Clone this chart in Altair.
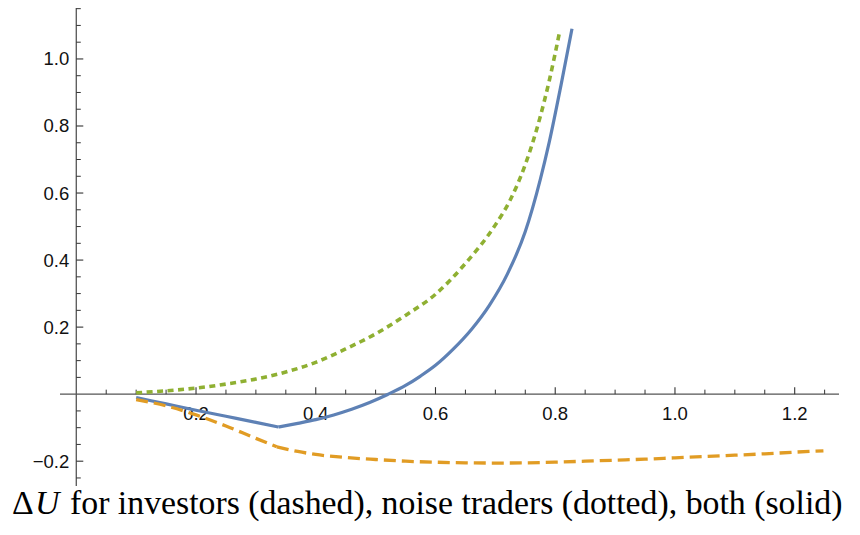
import altair as alt
import pandas as pd

# ---- data ----
# "both" (solid): kink at index 5
both_x = [0.1, 0.15, 0.2, 0.25, 0.3, 0.3375, 0.37, 0.4, 0.43, 0.46, 0.49, 0.52, 0.55,
          0.575, 0.6, 0.63, 0.66, 0.69, 0.72, 0.75, 0.775, 0.79, 0.81, 0.828]
both_y = [-0.010, -0.029, -0.048, -0.066, -0.084, -0.098, -0.087, -0.076, -0.062, -0.045,
          -0.025, -0.001, 0.026, 0.054, 0.086, 0.135, 0.193, 0.265, 0.358, 0.485, 0.64,
          0.752, 0.925, 1.09]
both_kink = 5

# "investors" (dashed): kink at index 5
inv_x = [0.1, 0.15, 0.2, 0.25, 0.3, 0.335, 0.37, 0.4, 0.45, 0.5, 0.55, 0.6, 0.65, 0.7,
         0.75, 0.8, 0.85, 0.9, 0.95, 1.0, 1.05, 1.1, 1.15, 1.2, 1.248]
inv_y = [-0.016, -0.035, -0.062, -0.095, -0.132, -0.157, -0.171, -0.18, -0.189, -0.195,
         -0.2, -0.203, -0.205, -0.2055, -0.205, -0.203, -0.2, -0.197, -0.194, -0.19,
         -0.186, -0.182, -0.178, -0.173, -0.169]
inv_kink = 5

# "noise traders" (dotted)
noise_x = [0.1, 0.15, 0.2, 0.25, 0.3, 0.35, 0.4, 0.45, 0.5, 0.55, 0.6, 0.65, 0.7, 0.725,
           0.75, 0.775, 0.79, 0.808]
noise_y = [0.004, 0.01, 0.018, 0.03, 0.045, 0.066, 0.095, 0.135, 0.18, 0.235, 0.298, 0.39,
           0.505, 0.58, 0.685, 0.828, 0.935, 1.087]

x_major = [0.2, 0.4, 0.6, 0.8, 1.0, 1.2]
x_major_labels = ["0.2", "0.4", "0.6", "0.8", "1.0", "1.2"]
x_minor = [0.05, 0.1, 0.15, 0.25, 0.3, 0.35, 0.45, 0.5, 0.55, 0.65, 0.7, 0.75,
           0.85, 0.9, 0.95, 1.05, 1.1, 1.15, 1.25]
y_major = [-0.2, 0.2, 0.4, 0.6, 0.8, 1.0]
y_major_labels = ["\u22120.2", "0.2", "0.4", "0.6", "0.8", "1.0"]
y_minor = [-0.25, -0.15, -0.1, -0.05, 0.05, 0.1, 0.15, 0.25, 0.3, 0.35, 0.45, 0.5, 0.55,
           0.65, 0.7, 0.75, 0.85, 0.9, 0.95, 1.05, 1.1, 1.15]

caption_parts = ["\u0394", "U", "for investors (dashed), noise traders (dotted), both (solid)"]

# ---- layout ----
W, H = 779, 478
XDOM = [-0.0272, 1.274]
YDOM = [-0.274, 1.152]
SERIF = "Liberation Serif"
SANS = "Liberation Sans"

xs = alt.Scale(domain=XDOM, nice=False, zero=False)
ys = alt.Scale(domain=YDOM, nice=False, zero=False)


def split_at(xv, yv, k):
    """Two pieces sharing the kink point, so the corner stays sharp."""
    if k is None:
        return pd.DataFrame({"x": xv, "y": yv, "seg": "a"})
    a = pd.DataFrame({"x": xv[:k + 1], "y": yv[:k + 1], "seg": "a"})
    b = pd.DataFrame({"x": xv[k:], "y": yv[k:], "seg": "b"})
    return pd.concat([a, b], ignore_index=True)


def line_layer(xv, yv, k, color, dash, width):
    df = split_at(xv, yv, k)
    kw = dict(color=color, strokeWidth=width, interpolate="monotone")
    if dash:
        kw["strokeDash"] = dash
    return alt.Chart(df).mark_line(**kw).encode(
        x=alt.X("x:Q", scale=xs, axis=None),
        y=alt.Y("y:Q", scale=ys, axis=None),
        detail="seg:N",
        order="x:Q",
    )


AXIS_COLOR = "#555555"
TICK_COLOR = "#333333"

xline = pd.DataFrame({"x0": [XDOM[0]], "x1": [XDOM[1]], "z": [0.0]})
yline = pd.DataFrame({"y0": [YDOM[0]], "y1": [YDOM[1]], "z": [0.0]})

x_axis_line = alt.Chart(xline).mark_rule(color=AXIS_COLOR, strokeWidth=1.3).encode(
    x=alt.X("x0:Q", scale=xs, axis=None), x2="x1:Q", y=alt.Y("z:Q", scale=ys, axis=None))
y_axis_line = alt.Chart(yline).mark_rule(color=AXIS_COLOR, strokeWidth=1.3).encode(
    y=alt.Y("y0:Q", scale=ys, axis=None), y2="y1:Q", x=alt.X("z:Q", scale=xs, axis=None))

xmaj = pd.DataFrame({"v": x_major, "t": x_major_labels, "z": 0.0})
xmin = pd.DataFrame({"v": x_minor, "z": 0.0})
ymaj = pd.DataFrame({"v": y_major, "t": y_major_labels, "z": 0.0})
ymin = pd.DataFrame({"v": y_minor, "z": 0.0})

x_major_ticks = alt.Chart(xmaj).mark_rule(color=TICK_COLOR, strokeWidth=1.1, y2Offset=-7).encode(
    x=alt.X("v:Q", scale=xs, axis=None), y=alt.Y("z:Q", scale=ys, axis=None), y2="z:Q")
x_minor_ticks = alt.Chart(xmin).mark_rule(color=TICK_COLOR, strokeWidth=1.0, y2Offset=-4.5).encode(
    x=alt.X("v:Q", scale=xs, axis=None), y=alt.Y("z:Q", scale=ys, axis=None), y2="z:Q")
x_labels = alt.Chart(xmaj).mark_text(font=SANS, fontSize=18.5, dy=25.5,
                                     baseline="alphabetic", align="center", color="#111111").encode(
    x=alt.X("v:Q", scale=xs, axis=None), y=alt.Y("z:Q", scale=ys, axis=None), text="t:N")

y_major_ticks = alt.Chart(ymaj).mark_rule(color=TICK_COLOR, strokeWidth=1.1, x2Offset=7).encode(
    y=alt.Y("v:Q", scale=ys, axis=None), x=alt.X("z:Q", scale=xs, axis=None), x2="z:Q")
y_minor_ticks = alt.Chart(ymin).mark_rule(color=TICK_COLOR, strokeWidth=1.0, x2Offset=4.5).encode(
    y=alt.Y("v:Q", scale=ys, axis=None), x=alt.X("z:Q", scale=xs, axis=None), x2="z:Q")
y_labels = alt.Chart(ymaj).mark_text(font=SANS, fontSize=18.5, dx=-7, dy=6.5,
                                     baseline="alphabetic", align="right", color="#111111").encode(
    y=alt.Y("v:Q", scale=ys, axis=None), x=alt.X("z:Q", scale=xs, axis=None), text="t:N")

cap_y = 505.5
cap_df = pd.DataFrame({"t": caption_parts})


def cap_layer(idx, xpos, italic=False):
    kw = dict(font=SERIF, fontSize=33.8, align="left", baseline="alphabetic",
              color="black")
    if italic:
        kw["fontStyle"] = "italic"
    return alt.Chart(cap_df).transform_filter(
        alt.datum.t == caption_parts[idx]
    ).mark_text(**kw).encode(x=alt.value(xpos), y=alt.value(cap_y), text="t:N")


chart = alt.layer(
    x_axis_line, y_axis_line,
    x_minor_ticks, x_major_ticks, y_minor_ticks, y_major_ticks,
    x_labels, y_labels,
    line_layer(both_x, both_y, both_kink, "#5E81B5", None, 3.2),
    line_layer(inv_x, inv_y, inv_kink, "#E19C24", [12, 6], 3.3),
    line_layer(noise_x, noise_y, None, "#8FB032", [6, 4.5], 3.6),
    cap_layer(0, -48), cap_layer(1, -25, italic=True), cap_layer(2, 10),
).properties(
    width=W, height=H,
    autosize=alt.AutoSizeParams(type="none"),
    padding={"left": 52, "top": 0, "right": 13, "bottom": 36},
).configure_view(stroke=None)

chart.save("out.html", embed_options={"renderer": "svg", "actions": False})
